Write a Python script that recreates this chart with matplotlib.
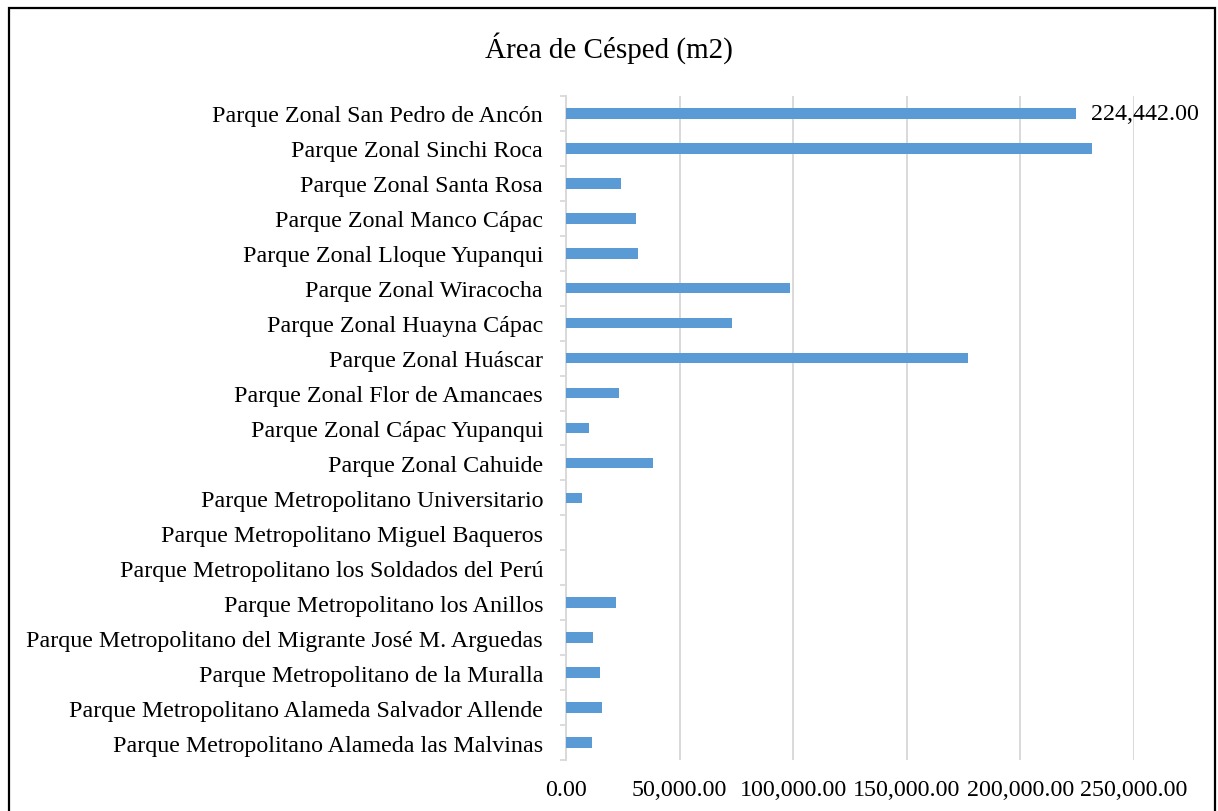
import matplotlib
matplotlib.use("Agg")
import matplotlib.pyplot as plt
from matplotlib.patches import Rectangle
from matplotlib.ticker import FuncFormatter, MultipleLocator
import numpy as np

plt.rcParams["font.family"] = ["Liberation Serif", "DejaVu Serif"]

# top of chart first
parques = [
    "Parque Zonal San Pedro de Ancón",
    "Parque Zonal Sinchi Roca",
    "Parque Zonal Santa Rosa",
    "Parque Zonal Manco Cápac",
    "Parque Zonal Lloque Yupanqui",
    "Parque Zonal Wiracocha",
    "Parque Zonal Huayna Cápac",
    "Parque Zonal Huáscar",
    "Parque Zonal Flor de Amancaes",
    "Parque Zonal Cápac Yupanqui",
    "Parque Zonal Cahuide",
    "Parque Metropolitano Universitario",
    "Parque Metropolitano Miguel Baqueros",
    "Parque Metropolitano los Soldados del Perú",
    "Parque Metropolitano los Anillos",
    "Parque Metropolitano del Migrante José M. Arguedas",
    "Parque Metropolitano de la Muralla",
    "Parque Metropolitano Alameda Salvador Allende",
    "Parque Metropolitano Alameda las Malvinas",
]
cesped = [224442, 231300, 24400, 30900, 31800, 98500, 73100, 177100, 23500,
          10000, 38500, 7000, 0, 0, 21800, 12000, 15100, 15700, 11400]
etiqueta_idx = 0  # only the first bar carries a value label

W, H = 1218, 812
fig = plt.figure(figsize=(W / 100, H / 100), dpi=100, facecolor="white")
ax = fig.add_axes([566 / W, 1 - 761 / H, 568 / W, 664 / H])

y = np.arange(len(parques))
ax.barh(y, cesped, height=0.3, color="#5B9BD5", zorder=3)
ax.set_ylim(len(parques) - 0.5, -0.5)
ax.set_xlim(0, 250000)

ax.set_yticks(y)
ax.set_yticklabels(parques)
ax.set_yticks(np.arange(-0.5, len(parques)), minor=True)
ax.tick_params(axis="y", which="major", length=0, pad=16.5, labelsize=17.3, colors="black")
ax.tick_params(axis="y", which="minor", length=4, width=1.3, color="#d9d9d9")

ax.xaxis.set_major_locator(MultipleLocator(50000))
ax.xaxis.set_major_formatter(FuncFormatter(lambda v, p: f"{v:,.2f}"))
ax.tick_params(axis="x", length=0, pad=14, labelsize=17.3)
ax.grid(axis="x", color="#d9d9d9", linewidth=1.4, zorder=0)
ax.grid(axis="y", visible=False)

for side in ("top", "right", "bottom"):
    ax.spines[side].set_visible(False)
ax.spines["left"].set_color("#d9d9d9")
ax.spines["left"].set_linewidth(1.4)

v = cesped[etiqueta_idx]
ax.annotate(f"{v:,.2f}", xy=(v, etiqueta_idx), xytext=(11, 0), textcoords="offset points",
            ha="left", va="center", fontsize=17.3, zorder=4)

fig.text(0.5, 1 - 48 / H, "Área de Césped (m2)", ha="center", va="center", fontsize=21)

fig.patches.append(Rectangle((9 / W, -0.05), 1206 / W, 1.05 - 9 / H, transform=fig.transFigure,
                             fill=False, edgecolor="black", linewidth=1.6))

fig.savefig("out.png", dpi=100, facecolor="white")
